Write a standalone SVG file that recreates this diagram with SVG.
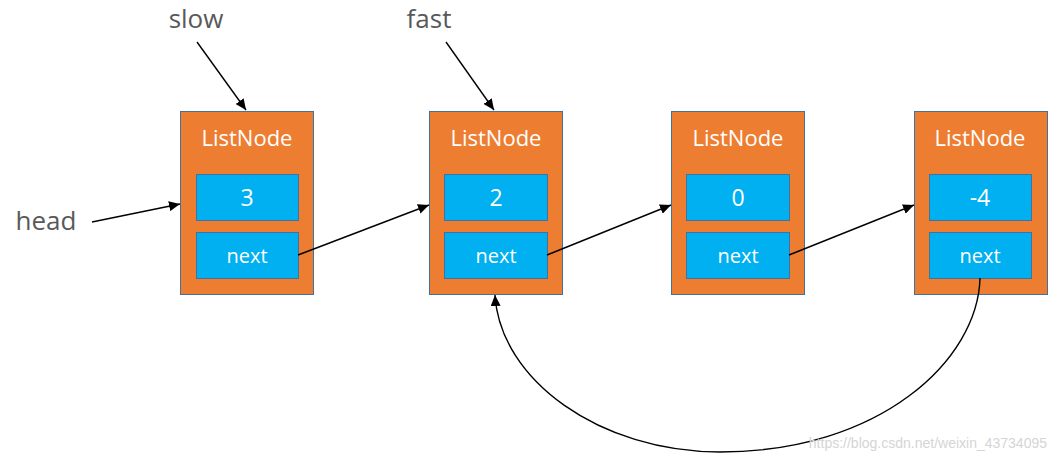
<svg xmlns="http://www.w3.org/2000/svg" width="1057" height="462" viewBox="0 0 1057 462">
<style>
.outer{fill:#ED7D31;stroke:#41719C;stroke-width:1}
.inner{fill:#00B0F0;stroke:#41719C;stroke-width:1}
.t{font-family:"Open Sans","Noto Sans","Liberation Sans",sans-serif;fill:#fff;text-anchor:middle}
.title{font-size:22px}
.val{font-size:23px}
.nx{font-size:20px}
.lbl{font-family:"Open Sans","Noto Sans","Liberation Sans",sans-serif;font-size:26px;fill:#595959;text-anchor:middle}
.c{fill:none;stroke:#000;stroke-width:1.4;marker-end:url(#ah)}
</style>
<defs>
<marker id="ah" markerUnits="userSpaceOnUse" markerWidth="12" markerHeight="10" refX="11" refY="5" orient="auto">
<path d="M0,0 L11,5 L0,10 Z" fill="#000"/>
</marker>
</defs>
<rect width="1057" height="462" fill="#fff"/>
<g id="node1">
<rect class="outer" x="180.5" y="111.5" width="133" height="183"/>
<text class="t title" x="247" y="146">ListNode</text>
<rect class="inner" x="196.5" y="174.5" width="102" height="46"/>
<text class="t val" x="247" y="206">3</text>
<rect class="inner" x="196.5" y="232.5" width="102" height="46"/>
<text class="t nx" x="247" y="263">next</text>
</g>
<g id="node2">
<rect class="outer" x="429.5" y="111.5" width="133" height="183"/>
<text class="t title" x="496" y="146">ListNode</text>
<rect class="inner" x="444.5" y="174.5" width="103" height="46"/>
<text class="t val" x="496" y="206">2</text>
<rect class="inner" x="444.5" y="232.5" width="103" height="46"/>
<text class="t nx" x="496" y="263">next</text>
</g>
<g id="node3">
<rect class="outer" x="671.5" y="111.5" width="133" height="183"/>
<text class="t title" x="738" y="146">ListNode</text>
<rect class="inner" x="686.5" y="174.5" width="103" height="46"/>
<text class="t val" x="738" y="206">0</text>
<rect class="inner" x="686.5" y="232.5" width="103" height="46"/>
<text class="t nx" x="738" y="263">next</text>
</g>
<g id="node4">
<rect class="outer" x="914.5" y="111.5" width="133" height="183"/>
<text class="t title" x="980" y="146">ListNode</text>
<rect class="inner" x="929.5" y="174.5" width="102" height="46"/>
<text class="t val" x="980" y="206">-4</text>
<rect class="inner" x="929.5" y="232.5" width="102" height="46"/>
<text class="t nx" x="980" y="263">next</text>
</g>
<g id="labels">
<text class="lbl" x="196" y="28">slow</text>
<text class="lbl" x="429" y="28">fast</text>
<text class="lbl" x="46" y="230">head</text>
</g>
<g id="connectors">
<path class="c" d="M197,42 L246,110"/>
<path class="c" d="M446,42 L494,110"/>
<path class="c" d="M92,222 L180,204"/>
<path class="c" d="M298,255 L429,205"/>
<path class="c" d="M547,255 L671,205"/>
<path class="c" d="M789,255 L914,205"/>
<path class="c" d="M980,278 C978,360 880,452 720,452 C600,452 500,380 495,295"/>
</g>
<text x="1047" y="448" font-family="Liberation Sans,Arial,sans-serif" font-size="14" fill="#d5d5d5" text-anchor="end">https://blog.csdn.net/weixin_43734095</text>
</svg>
